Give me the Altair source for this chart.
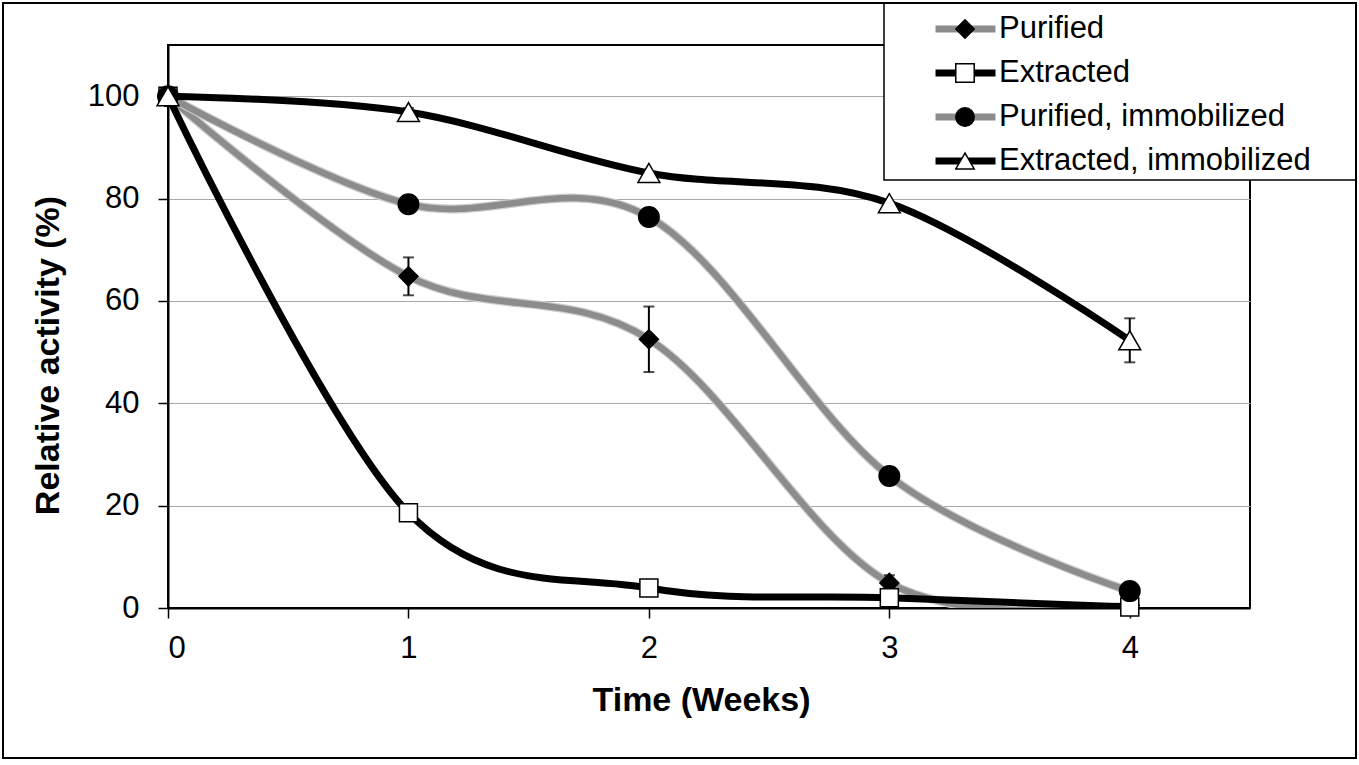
import altair as alt
import pandas as pd

# ---- data ----
weeks = [0, 1, 2, 3, 4]
series_names = ["Purified", "Extracted", "Purified, immobilized", "Extracted, immobilized"]
marker_keys = ["m_pur", "m_ext", "m_pur_imm", "m_ext_imm"]

purified = [100, 64.8, 52.5, 4.9, 0.5]
purified_err = [0, 3.7, 6.4, 1.5, 0]
extracted = [100, 18.6, 3.9, 2.0, 0.2]
extracted_err = [0, 0, 0, 0, 0]
pur_imm = [100, 78.9, 76.4, 25.8, 3.3]
pur_imm_err = [0, 1.5, 0, 0, 0]
ext_imm = [100, 96.9, 85.0, 79.1, 52.3]
ext_imm_err = [0, 0.8, 0, 0, 4.3]

line_colors = ["#8c8c8c", "black", "#8c8c8c", "black"]
marker_shapes = ["diamond", "square", "circle", "triangle-up"]
marker_fills = ["black", "white", "black", "white"]
marker_strokes = ["black", "black", "black", "black"]
marker_sizes = [360, 324, 420, 480]

values = [purified, extracted, pur_imm, ext_imm]
errors = [purified_err, extracted_err, pur_imm_err, ext_imm_err]

FONT = "Liberation Sans"

x_scale = alt.Scale(domain=[0, 4.5], nice=False)
y_scale = alt.Scale(domain=[0, 110], nice=False)
color_scale = alt.Scale(domain=series_names, range=line_colors)
shape_scale = alt.Scale(domain=marker_keys, range=marker_shapes)
fill_scale = alt.Scale(domain=marker_keys, range=marker_fills)
stroke_scale = alt.Scale(domain=marker_keys, range=marker_strokes)

x_axis = alt.Axis(
    values=[0, 1, 2, 3, 4], format="d", grid=False,
    title="Time (Weeks)", titleFontSize=34, titleFontWeight="bold",
    titleX=533, titleY=92, titleBaseline="middle", titleColor="black",
    labelFontSize=31, labelPadding=15, labelColor="black",
    tickSize=10, tickWidth=1.5, tickColor="black",
    domainColor="black", domainWidth=2,
)
y_axis = alt.Axis(
    values=[0, 20, 40, 60, 80, 100], grid=True, gridColor="#a8a8a8", gridWidth=1,
    title="Relative activity (%)", titleFontSize=34, titleFontWeight="bold",
    titleX=-120, titleY=310, titleBaseline="middle", titleAngle=270, titleColor="black",
    labelFontSize=31, labelPadding=19, labelColor="black",
    tickSize=10, tickWidth=1.5, tickColor="black",
    domainColor="black", domainWidth=2,
)

line_legend = alt.Legend(
    orient="none", legendX=764, legendY=-38, title=None,
    symbolType="stroke", symbolSize=3600, symbolStrokeWidth=7,
    clipHeight=44, rowPadding=0, padding=0,
    labelFontSize=31, labelOffset=0, labelColor="black", labelFont=FONT,
    labelLimit=400, zindex=1,
)
marker_legend = alt.Legend(
    orient="none", legendX=787, legendY=-38, title=None,
    symbolSize=340, symbolStrokeWidth=1.5,
    clipHeight=44, rowPadding=0, padding=0,
    labelFontSize=1, labelOpacity=0, zindex=2,
)

rows = []
for name, key, vals, errs in zip(series_names, marker_keys, values, errors):
    for w, v, e in zip(weeks, vals, errs):
        rows.append({"week": w, "value": v, "err": e, "lo": v - e, "hi": v + e,
                     "series": name, "mk": key})
df = pd.DataFrame(rows)

layers = []
for i, name in enumerate(series_names):
    sdf = df[df["series"] == name]
    x_enc = alt.X("week:Q", scale=x_scale, axis=x_axis)
    y_enc = alt.Y("value:Q", scale=y_scale, axis=y_axis)
    if line_colors[i] != "black":
        halo = alt.Chart(sdf).mark_line(
            interpolate="cardinal", stroke="#cdcdcd", strokeWidth=9, clip=True
        ).encode(x=x_enc, y=y_enc)
        layers.append(halo)
    line = alt.Chart(sdf).mark_line(
        interpolate="cardinal", strokeWidth=7 if line_colors[i] == "black" else 6.5, clip=True
    ).encode(
        x=x_enc, y=y_enc,
        color=alt.Color("series:N", scale=color_scale, legend=line_legend),
    )
    layers.append(line)
    edf = sdf[sdf["err"] > 0]
    if len(edf):
        bar = alt.Chart(edf).mark_rule(color="black", strokeWidth=2).encode(
            x=alt.X("week:Q", scale=x_scale),
            y=alt.Y("lo:Q", scale=y_scale), y2="hi:Q",
        )
        cap_lo = alt.Chart(edf).mark_tick(color="black", orient="horizontal",
                                          size=11, thickness=2).encode(
            x=alt.X("week:Q", scale=x_scale), y=alt.Y("lo:Q", scale=y_scale))
        cap_hi = alt.Chart(edf).mark_tick(color="black", orient="horizontal",
                                          size=11, thickness=2).encode(
            x=alt.X("week:Q", scale=x_scale), y=alt.Y("hi:Q", scale=y_scale))
        layers += [bar, cap_lo, cap_hi]
    pts = alt.Chart(sdf).mark_point(
        filled=True, strokeWidth=1.5, opacity=1, size=marker_sizes[i]
    ).encode(
        x=x_enc, y=y_enc,
        shape=alt.Shape("mk:N", scale=shape_scale, legend=marker_legend),
        fill=alt.Fill("mk:N", scale=fill_scale, legend=marker_legend),
        stroke=alt.Stroke("mk:N", scale=stroke_scale, legend=marker_legend),
    )
    layers.append(pts)

box_df = pd.DataFrame({"k": [0]})
legend_box = alt.Chart(box_df).mark_rect(
    fill="white", stroke="black", strokeWidth=1.5
).encode(x=alt.value(716), x2=alt.value(1188), y=alt.value(-42), y2=alt.value(135))
outer_frame = alt.Chart(box_df).mark_rect(
    fill=None, stroke="black", strokeWidth=2
).encode(x=alt.value(-165), x2=alt.value(1188), y=alt.value(-42), y2=alt.value(713))

chart = alt.layer(*layers, legend_box, outer_frame).properties(
    width=1082, height=563,
    autosize=alt.AutoSizeParams(type="none"),
    padding={"left": 168, "top": 45, "right": 109, "bottom": 157},
    background="white",
).configure(font=FONT).configure_view(stroke="black", strokeWidth=2)

chart.save("out.html", embed_options={"renderer": "svg", "actions": False})
